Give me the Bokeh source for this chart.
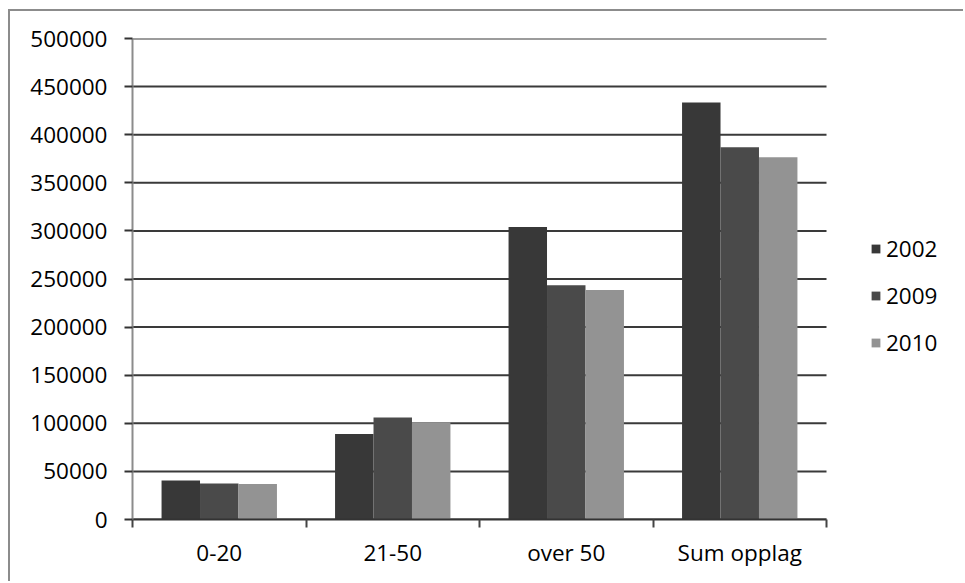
import numpy as np
from bokeh.plotting import figure
from bokeh.models import (ColumnDataSource, FixedTicker, Legend, LegendItem,
                          Range1d, NumeralTickFormatter)
from bokeh.embed import file_html
from bokeh.resources import INLINE

# Circulation by group, three years
categories = ["0-20", "21-50", "over 50", "Sum opplag"]
years = ["2002", "2009", "2010"]
v2002 = [40500, 89000, 304000, 433500]
v2009 = [37500, 106000, 243500, 387000]
v2010 = [37000, 101000, 238500, 376500]
y_ticks = [0, 50000, 100000, 150000, 200000, 250000, 300000, 350000, 400000, 450000, 500000]

series = [v2002, v2009, v2010]
colors = ["#383838", "#4a4a4a", "#939393"]
offsets = [-0.2217, 0.0, 0.2217]
bar_w = 0.2217

FONT = "Open Sans"
n = len(categories)

# The frame runs to the right edge so the legend can sit inside it;
# the category area keeps the left 694 px of the 833 px frame.
p = figure(width=955, height=572, output_backend="svg", toolbar_location=None,
           x_range=Range1d(0, n * 833 / 694), y_range=Range1d(0, 500000),
           min_border_left=122, min_border_top=27, min_border_bottom=64,
           min_border_right=0)
p.styles = {"border-top": "2px solid #8c8c8c", "border-left": "2px solid #8c8c8c",
            "margin-left": "8px", "margin-top": "9px"}
p.outline_line_color = None
p.background_fill_color = "white"
p.border_fill_color = "white"
p.xgrid.grid_line_color = None
p.ygrid.grid_line_color = None

# horizontal gridlines over the category area only
p.segment(x0=0, x1=n, y0=y_ticks, y1=y_ticks, line_color="#3a3a3a", line_width=2)

centers = np.arange(n) + 0.5
renderers = []
for vals, col, off in zip(series, colors, offsets):
    src = ColumnDataSource(dict(x=centers + off, top=vals))
    r = p.vbar(x="x", top="top", width=bar_w, bottom=0, source=src,
               fill_color=col, line_color=None)
    renderers.append(r)

# x axis: labels at category centres, ticks on category boundaries
xa = p.xaxis[0]
xa.bounds = (0, n)
xa.ticker = FixedTicker(ticks=list(centers), minor_ticks=list(range(n + 1)))
xa.major_label_overrides = {float(c): lab for c, lab in zip(centers, categories)}
xa.major_tick_out = 0
xa.major_tick_in = 0
xa.minor_tick_out = 8
xa.minor_tick_in = 0
xa.minor_tick_line_color = "#444444"
xa.minor_tick_line_width = 2
xa.axis_line_color = "#333333"
xa.axis_line_width = 2
xa.major_label_text_font = FONT
xa.major_label_text_font_size = "22.5px"
xa.major_label_text_color = "black"
xa.major_label_standoff = 9

ya = p.yaxis[0]
ya.ticker = FixedTicker(ticks=y_ticks)
ya.formatter = NumeralTickFormatter(format="0")
ya.major_tick_out = 8
ya.major_tick_in = 0
ya.minor_tick_out = 0
ya.minor_tick_in = 0
ya.major_tick_line_color = "#333333"
ya.major_tick_line_width = 2
ya.axis_line_color = "#8c8c8c"
ya.axis_line_width = 2
ya.major_label_text_font = FONT
ya.major_label_text_font_size = "22.5px"
ya.major_label_text_color = "black"
ya.major_label_standoff = 17

legend = Legend(items=[LegendItem(label=y, renderers=[r]) for y, r in zip(years, renderers)],
                location=(738, 153), orientation="vertical")
legend.background_fill_alpha = 0
legend.border_line_color = None
legend.padding = 0
legend.margin = 0
legend.spacing = 0
legend.glyph_width = 11
legend.glyph_height = 11
legend.label_height = 47
legend.label_standoff = 5
legend.label_text_font = FONT
legend.label_text_font_size = "22.5px"
legend.label_text_color = "black"
p.add_layout(legend)

open("out.html", "w").write(file_html(p, INLINE))
